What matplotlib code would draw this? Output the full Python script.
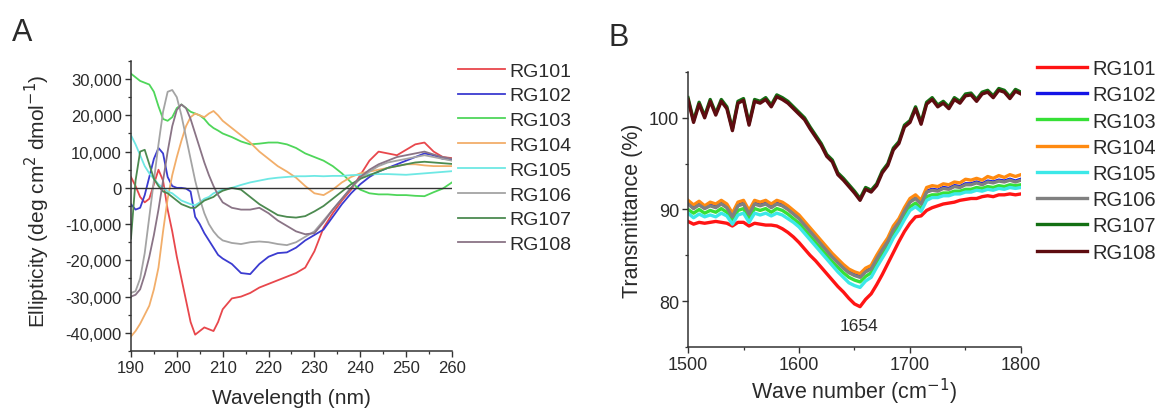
import matplotlib
matplotlib.use("Agg")
import matplotlib.pyplot as plt
from matplotlib.ticker import MultipleLocator, FuncFormatter

plt.rcParams["font.family"] = ["Liberation Sans", "DejaVu Sans"]
plt.rcParams["axes.unicode_minus"] = False

# ---- panel A: CD spectra ----
wavelength = list(range(190, 211)) + list(range(212, 261, 2))

rg101_cd = [3000, 500, -2500, -4000, -3000, 1000, 5000, 2000, -6000, -12000,
            -19000, -25000, -31000, -37000, -40500, -39500, -38500, -39000, -39500, -37000,
            -33500, -30500, -30000, -29000, -27500, -26500, -25500, -24500, -23500, -22000,
            -17500, -11000, -7000, -3500, -500, 3500, 7500, 10000, 9500, 9000,
            10500, 12000, 12500, 10000, 8500, 8200]
rg102_cd = [-4500, -6000, -5500, -2000, 3000, 8000, 11000, 9500, 3000, 500,
            0, 0, -200, -1000, -8000, -10000, -12500, -14500, -16500, -18500,
            -19500, -21000, -23500, -23800, -21000, -19000, -18000, -17800, -16500, -14500,
            -13000, -11500, -8000, -4500, -1500, 1000, 3000, 4500, 5500, 6500,
            7500, 8500, 9500, 9000, 8000, 7800]
rg103_cd = [31500, 30500, 29500, 29000, 28500, 26500, 22500, 19000, 18500, 19500,
            22000, 23000, 22000, 21000, 20500, 20000, 19000, 17500, 16500, 15800,
            15000, 14000, 12800, 12000, 12200, 12500, 12500, 12000, 11000, 9500,
            8500, 7500, 6000, 4000, 1500, -500, -1500, -1800, -1800, -2000,
            -2000, -2200, -2300, -1200, -200, 1500]
rg104_cd = [-41000, -39500, -37500, -35000, -32500, -28000, -22000, -12000, -3000, 3500,
            8500, 13000, 17000, 19500, 20500, 20000, 19500, 20500, 21200, 20000,
            18500, 16500, 14500, 12500, 10000, 8000, 6000, 4500, 2800, 500,
            -1500, -2000, -500, 1500, 3000, 4000, 4500, 5000, 5500, 6000,
            6500, 6500, 6200, 6000, 6000, 6000]
rg105_cd = [14500, 12000, 9000, 6000, 4000, 2500, 1000, 0, -1000, -1500,
            -2500, -3500, -4000, -4500, -4800, -4000, -3000, -2500, -1500, -1000,
            -500, 0, 800, 1500, 2000, 2500, 2800, 3000, 3200, 3200,
            3300, 3200, 3300, 3300, 3500, 3600, 3700, 3800, 3800, 3700,
            3600, 3800, 4000, 4200, 4400, 4600]
rg106_cd = [-29000, -28500, -25000, -18000, -8000, 2000, 12000, 21000, 26500, 27000,
            25000, 20000, 14000, 8000, 2000, -3000, -7000, -10000, -12000, -13500,
            -14500, -15200, -15500, -15000, -14800, -15000, -15500, -15800, -15000, -13500,
            -12000, -9000, -6000, -3000, 0, 2500, 4500, 6000, 7000, 7500,
            8000, 8500, 9000, 8500, 8000, 7500]
rg107_cd = [-14000, 2000, 10000, 10500, 6500, 2500, 500, -1000, -1500, -2500,
            -3500, -4500, -5000, -5500, -5500, -4500, -3500, -3000, -2500, -1500,
            -800, 0, -500, -2500, -4500, -6000, -7500, -8000, -8200, -7800,
            -6500, -5000, -3000, -1000, 1000, 2500, 3500, 4500, 5500, 6000,
            6500, 7000, 7200, 7000, 6800, 6600]
rg108_cd = [-30000, -29500, -28000, -24000, -19000, -13000, -6000, 2000, 10000, 17000,
            21500, 23000, 22000, 19000, 15000, 11000, 7000, 3500, 500, -2000,
            -4000, -5500, -6000, -6000, -5500, -7000, -9000, -10500, -12000, -12800,
            -12500, -9500, -6000, -3000, 0, 3000, 5000, 6500, 7500, 8500,
            9000, 9500, 10000, 9200, 8500, 8000]

# ---- panel B: FTIR spectra ----
wavenumber = list(range(1500, 1801, 5))

rg101_ir = [88.7, 88.4, 88.6, 88.5, 88.6, 88.7, 88.6, 88.5, 88.2, 88.6,
            88.6, 88.2, 88.5, 88.4, 88.3, 88.3, 88.2, 87.9, 87.5, 87.0,
            86.4, 85.7, 85.0, 84.4, 83.7, 83.0, 82.3, 81.6, 81.0, 80.3,
            79.7, 79.4, 80.2, 80.8, 81.8, 82.9, 84.1, 85.3, 86.5, 87.6,
            88.5, 89.2, 89.3, 89.9, 90.2, 90.4, 90.6, 90.7, 90.8, 91.0,
            91.1, 91.2, 91.2, 91.4, 91.5, 91.4, 91.6, 91.6, 91.7, 91.6, 91.7]
rg102_ir = [90.7, 90.2, 90.6, 90.2, 90.5, 90.3, 90.7, 90.3, 89.3, 90.5,
            90.7, 89.6, 90.7, 90.5, 90.7, 90.3, 90.7, 90.5, 90.1, 89.6,
            89.1, 88.4, 87.7, 87.0, 86.3, 85.6, 84.9, 84.3, 83.7, 83.2,
            82.9, 82.7, 83.3, 83.6, 84.7, 85.7, 86.6, 87.9, 88.7, 89.9,
            90.9, 91.3, 90.7, 92.0, 92.2, 92.1, 92.4, 92.3, 92.6, 92.5,
            92.8, 92.8, 93.0, 92.8, 93.1, 93.0, 93.2, 93.1, 93.3, 93.1, 93.3]
rg103_ir = [90.0, 89.6, 90.0, 89.6, 89.9, 89.7, 90.1, 89.7, 88.8, 89.9,
            90.1, 89.0, 90.1, 89.9, 90.1, 89.7, 90.1, 89.9, 89.5, 89.0,
            88.5, 87.8, 87.1, 86.4, 85.7, 85.0, 84.3, 83.7, 83.1, 82.6,
            82.3, 82.1, 82.7, 83.1, 84.1, 85.1, 86.1, 87.3, 88.2, 89.3,
            90.3, 90.7, 90.1, 91.4, 91.6, 91.6, 91.8, 91.8, 92.0, 92.0,
            92.2, 92.2, 92.4, 92.3, 92.5, 92.4, 92.6, 92.5, 92.7, 92.6, 92.7]
rg104_ir = [91.0, 90.5, 90.9, 90.4, 90.8, 90.6, 91.0, 90.6, 89.6, 90.8,
            91.0, 89.9, 91.0, 90.8, 91.0, 90.6, 91.0, 90.8, 90.4, 89.9,
            89.4, 88.7, 88.0, 87.3, 86.6, 85.9, 85.2, 84.6, 84.0, 83.5,
            83.2, 83.0, 83.6, 83.9, 85.0, 86.0, 86.9, 88.2, 89.0, 90.2,
            91.2, 91.6, 91.0, 92.4, 92.6, 92.5, 92.8, 92.7, 93.0, 92.9,
            93.3, 93.2, 93.4, 93.2, 93.6, 93.4, 93.7, 93.5, 93.8, 93.6, 93.8]
rg105_ir = [89.6, 89.1, 89.5, 89.2, 89.4, 89.2, 89.6, 89.3, 88.4, 89.4,
            89.6, 88.6, 89.6, 89.4, 89.6, 89.3, 89.6, 89.4, 89.0, 88.6,
            88.1, 87.4, 86.7, 86.0, 85.3, 84.6, 83.9, 83.2, 82.6, 82.0,
            81.7, 81.5, 82.2, 82.6, 83.7, 84.7, 85.7, 86.9, 87.8, 88.9,
            89.9, 90.3, 89.8, 91.0, 91.3, 91.3, 91.5, 91.5, 91.7, 91.7,
            91.9, 91.9, 92.1, 92.0, 92.2, 92.1, 92.3, 92.2, 92.4, 92.3, 92.4]
rg106_ir = [90.6, 90.1, 90.5, 90.1, 90.4, 90.2, 90.6, 90.2, 89.2, 90.4,
            90.6, 89.5, 90.6, 90.4, 90.6, 90.2, 90.6, 90.4, 90.0, 89.5,
            89.0, 88.3, 87.6, 86.9, 86.2, 85.5, 84.8, 84.2, 83.6, 83.1,
            82.8, 82.6, 83.2, 83.5, 84.6, 85.6, 86.5, 87.8, 88.6, 89.8,
            90.8, 91.2, 90.6, 91.9, 92.1, 92.0, 92.3, 92.2, 92.5, 92.4,
            92.7, 92.7, 92.9, 92.7, 93.0, 92.9, 93.1, 93.0, 93.2, 93.0, 93.2]
rg107_ir = [102.2, 99.7, 101.7, 100.2, 102.0, 100.5, 102.0, 101.2, 98.8, 101.8,
            102.1, 99.4, 102.0, 101.8, 102.2, 101.4, 102.5, 102.2, 101.8, 101.2,
            100.6, 100.0, 99.0, 98.1, 97.2, 96.0, 95.4, 94.0, 93.4, 92.7,
            92.0, 91.2, 92.4, 92.1, 92.8, 94.2, 95.0, 96.7, 97.4, 99.2,
            99.7, 101.2, 99.5, 101.7, 102.2, 101.4, 101.8, 101.2, 102.2, 101.8,
            102.6, 102.7, 102.0, 102.8, 103.0, 102.4, 103.2, 103.0, 102.3, 103.1, 102.8]
rg108_ir = [102.0, 99.5, 101.5, 100.0, 101.8, 100.3, 101.8, 101.0, 98.6, 101.6,
            101.9, 99.2, 101.8, 101.6, 102.0, 101.2, 102.3, 102.0, 101.6, 101.0,
            100.4, 99.8, 98.8, 97.9, 97.0, 95.8, 95.2, 93.8, 93.2, 92.5,
            91.8, 91.0, 92.2, 91.9, 92.6, 94.0, 94.8, 96.5, 97.2, 99.0,
            99.5, 101.0, 99.3, 101.5, 102.0, 101.2, 101.6, 101.0, 102.0, 101.6,
            102.4, 102.5, 101.8, 102.6, 102.8, 102.2, 103.0, 102.8, 102.1, 102.9, 102.6]

labels = ["RG101", "RG102", "RG103", "RG104", "RG105", "RG106", "RG107", "RG108"]
cd_series = [rg101_cd, rg102_cd, rg103_cd, rg104_cd, rg105_cd, rg106_cd, rg107_cd, rg108_cd]
ir_series = [rg101_ir, rg102_ir, rg103_ir, rg104_ir, rg105_ir, rg106_ir, rg107_ir, rg108_ir]

cd_colors = ["#e8474c", "#3b3bd0", "#4fd65a", "#f2ae6a", "#6ee8e4", "#a4a4a4", "#4c8a50", "#8a7486"]
ir_colors = ["#ff1414", "#1414e6", "#36e036", "#ff8a10", "#3ce8e8", "#808080", "#137013", "#5e0c10"]

text_col = "#2a2a2a"

fig = plt.figure(figsize=(11.61, 4.14), dpi=100)


def style_axis(ax, tick_size):
    for side in ("top", "right"):
        ax.spines[side].set_visible(False)
    for side in ("left", "bottom"):
        ax.spines[side].set_linewidth(1.1)
        ax.spines[side].set_color("#333333")
    ax.tick_params(which="major", direction="out", length=4.5, width=1, pad=2,
                   labelsize=tick_size, labelcolor=text_col, color="#333333")
    ax.tick_params(which="minor", direction="out", length=2.5, width=0.9, color="#333333")


# panel A
axA = fig.add_axes([0.1128, 0.1498, 0.2765, 0.7005])
for vals, col, lab in zip(cd_series, cd_colors, labels):
    axA.plot(wavelength, vals, color=col, lw=1.3, label=lab)
axA.axhline(0, color="#333333", lw=1.0, zorder=5)
axA.set_xlim(190, 260)
axA.set_ylim(-45000, 35000)
axA.xaxis.set_major_locator(MultipleLocator(10))
axA.xaxis.set_minor_locator(MultipleLocator(5))
axA.yaxis.set_major_locator(MultipleLocator(10000))
axA.yaxis.set_minor_locator(MultipleLocator(5000))
axA.yaxis.set_major_formatter(FuncFormatter(lambda v, p: f"{int(round(v)):,}"))
style_axis(axA, 12)
axA.set_xlabel("Wavelength (nm)", fontsize=15, color=text_col)
axA.xaxis.set_label_coords(0.5, -0.128)
axA.set_ylabel("Ellipticity (deg cm$^2$ dmol$^{-1}$)", fontsize=15, color=text_col)
axA.yaxis.set_label_coords(-0.245, 0.52)
axA.legend(loc="upper left", bbox_to_anchor=(458 / 1161, 1 - 63 / 414),
           bbox_transform=fig.transFigure, frameon=False, fontsize=14,
           handlelength=2.4, handletextpad=0.25, labelspacing=0.37, borderpad=0,
           borderaxespad=0, labelcolor=text_col)
fig.text(22 / 1161, 1 - 33 / 414, "A", fontsize=22, color=text_col, ha="center", va="center")

# panel B
axB = fig.add_axes([0.5926, 0.1594, 0.2868, 0.6643])
for vals, col, lab in zip(ir_series, ir_colors, labels):
    axB.plot(wavenumber, vals, color=col, lw=2.4, label=lab)
axB.set_xlim(1500, 1800)
axB.set_ylim(75, 105)
axB.xaxis.set_major_locator(MultipleLocator(100))
axB.xaxis.set_minor_locator(MultipleLocator(50))
axB.yaxis.set_major_locator(MultipleLocator(10))
axB.yaxis.set_minor_locator(MultipleLocator(5))
style_axis(axB, 13)
axB.set_xlabel("Wave number (cm$^{-1}$)", fontsize=15.5, color=text_col)
axB.xaxis.set_label_coords(0.5, -0.105)
axB.set_ylabel("Transmittance (%)", fontsize=15.5, color=text_col)
axB.yaxis.set_label_coords(-0.135, 0.5)
axB.text(1654, 77.4, "1654", fontsize=12.5, color=text_col, ha="center", va="center")
axB.legend(loc="upper left", bbox_to_anchor=(1037 / 1161, 1 - 60 / 414),
           bbox_transform=fig.transFigure, frameon=False, fontsize=14.5,
           handlelength=2.5, handletextpad=0.25, labelspacing=0.36, borderpad=0,
           borderaxespad=0, labelcolor=text_col)
fig.text(619 / 1161, 1 - 38 / 414, "B", fontsize=22, color=text_col, ha="center", va="center")

fig.savefig("out.png", dpi=100)
